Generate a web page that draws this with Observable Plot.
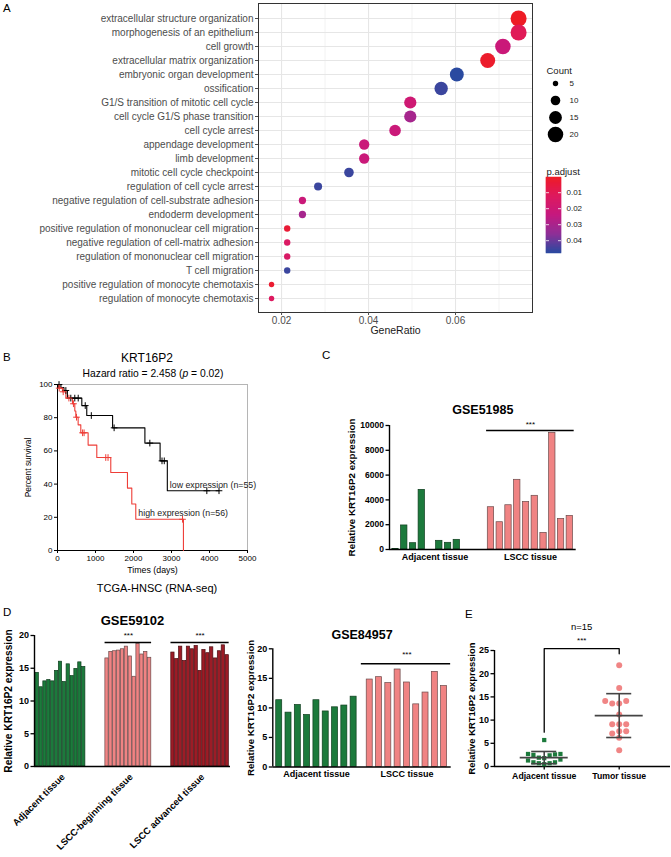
<!DOCTYPE html>
<html><head><meta charset="utf-8">
<script src="https://cdn.jsdelivr.net/npm/d3@7"></script>
<script src="https://cdn.jsdelivr.net/npm/@observablehq/plot@0.6"></script>
<style>
body{margin:0;background:#fff;}
#fig{position:relative;width:671px;height:857px;overflow:hidden;background:#fff;font-family:"Liberation Sans",Arial,Helvetica,sans-serif;color:#000;}
#fig svg{overflow:visible;}
</style></head>
<body><div id="fig"></div>
<script>
// ---------------- Panel A data ----------------
const goTerms = [
  "extracellular structure organization",
  "morphogenesis of an epithelium",
  "cell growth",
  "extracellular matrix organization",
  "embryonic organ development",
  "ossification",
  "G1/S transition of mitotic cell cycle",
  "cell cycle G1/S phase transition",
  "cell cycle arrest",
  "appendage development",
  "limb development",
  "mitotic cell cycle checkpoint",
  "regulation of cell cycle arrest",
  "negative regulation of cell-substrate adhesion",
  "endoderm development",
  "positive regulation of mononuclear cell migration",
  "negative regulation of cell-matrix adhesion",
  "regulation of mononuclear cell migration",
  "T cell migration",
  "positive regulation of monocyte chemotaxis",
  "regulation of monocyte chemotaxis"
];
const goGeneRatio = [0.0745, 0.0745, 0.0709, 0.0674, 0.0603, 0.0567, 0.0496, 0.0496, 0.0461, 0.0390, 0.0390, 0.0355, 0.0284, 0.0248, 0.0248, 0.0213, 0.0213, 0.0213, 0.0213, 0.0177, 0.0177];
const goCount = [21, 21, 20, 19, 17, 16, 14, 14, 13, 11, 11, 10, 8, 7, 7, 6, 6, 6, 6, 5, 5];
const goPAdjust = [0.0005, 0.011, 0.022, 0.002, 0.048, 0.046, 0.020, 0.031, 0.022, 0.022, 0.022, 0.046, 0.046, 0.022, 0.031, 0.004, 0.014, 0.015, 0.046, 0.003, 0.013];
const geneRatioTicks = [0.02, 0.04, 0.06];
const geneRatioMinor = [0.03, 0.05, 0.07];
const countBreaks = [5, 10, 15, 20];
const pBreaks = [0.01, 0.02, 0.03, 0.04];

// ---------------- Panel B data ----------------
const lowTimes = [0, 90, 170, 260, 640, 770, 1450, 2300, 2700, 2890];
const lowSurv = [100, 98.2, 96.4, 91.8, 87.3, 81.3, 73.9, 64.7, 54.0, 36.0];
const lowCensor = [40, 220, 350, 455, 545, 730, 890, 1490, 2430, 2750, 2810, 3930, 4250];
const highTimes = [0, 30, 130, 220, 394, 455, 482, 543, 613, 806, 1034, 1402, 1841, 1955, 2060, 3314];
const highSurv = [100, 97.8, 95.6, 91.8, 88.4, 84.0, 80.3, 75.7, 70.9, 63.5, 56.0, 47.0, 37.6, 28.0, 18.8, 0];
const highCensor = [45, 150, 300, 420, 500, 660, 700, 1270, 1330, 3290];
const survTimeTicks = [0, 1000, 2000, 3000, 4000, 5000];
const survPctTicks = [0, 20, 40, 60, 80, 100];
const survLabels = ["low expression (n=55)", "high expression (n=56)"];

// ---------------- Panel C data ----------------
const cGroups = ["Adjacent tissue", "LSCC tissue"];
const cAdjacent = [50, 1940, 510, 4810, 0, 700, 540, 780, 0, 0];
const cLSCC = [3410, 2200, 3570, 5620, 3840, 4330, 1340, 9410, 2470, 2710];
const cTicks = [0, 2000, 4000, 6000, 8000, 10000];

// ---------------- Panel D data ----------------
const d1Groups = ["Adjacent tissue", "LSCC-beginning tissue", "LSCC advanced tissue"];
const d1Adjacent = [14.3, 12.1, 13.0, 13.2, 13.0, 14.6, 16.0, 12.9, 15.6, 13.8, 14.9, 15.9, 15.2];
const d1Beginning = [16.5, 17.5, 17.6, 17.7, 17.9, 18.3, 16.8, 13.7, 18.7, 17.1, 17.5, 16.6];
const d1Advanced = [17.4, 16.4, 18.3, 16.1, 18.3, 17.9, 18.4, 14.6, 17.8, 17.3, 18.2, 16.5, 17.6, 18.5, 17.0];
const d2Groups = ["Adjacent tissue", "LSCC tissue"];
const d2Adjacent = [11.3, 9.2, 10.5, 8.8, 11.3, 9.4, 10.1, 10.4, 11.9];
const d2LSCC = [14.8, 15.2, 14.2, 16.5, 14.3, 10.6, 12.6, 16.1, 13.7];
const dTicks = [0, 5, 10, 15, 20];

// ---------------- Panel E data ----------------
const eGroups = ["Adjacent tissue", "Tumor tissue"];
const eAdjacent = [5.7, 1.9, 2.7, 2.5, 2.4, 2.6, 2.7, 1.8, 1.5, 0.9, 0.7, 0.5, 0.7, 0.9, 1.3];
const eTumor = [21.8, 16.9, 14.1, 13.6, 13.6, 14.1, 11.2, 9.1, 9.1, 9.1, 7.1, 7.6, 7.6, 6.2, 3.5];
const eTicks = [0, 5, 10, 15, 20, 25];

// ---------------- helpers ----------------
const fig = document.getElementById("fig");
const FONT = "'Liberation Sans', Arial, Helvetica, sans-serif";
const baseStyle = (extra = "") => `background:none;overflow:visible;max-width:none;font-family:${FONT};color:#000;${extra}`;
function mount(svg, left, top) {
  const d = document.createElement("div");
  d.style.cssText = `position:absolute;left:${left}px;top:${top}px;`;
  d.appendChild(svg);
  fig.appendChild(d);
}
function addText(html, x, y, css = "", center = true) {
  const d = document.createElement("div");
  d.innerHTML = html;
  d.style.cssText = `position:absolute;left:${x}px;top:${y}px;white-space:nowrap;line-height:1;${center ? "transform:translate(-50%,-50%);" : ""}${css}`;
  fig.appendChild(d);
}
const GREEN = "#1c7a3c", GREEN_S = "#0f3d1e";
const PINK = "#f08383", PINK_S = "#6b4a4a";
const DRED = "#9c1c26", DRED_S = "#4a0d12";

// ---------------- Panel A ----------------
const goRows = goTerms.map((term, i) => ({term, ratio: goGeneRatio[i], count: goCount[i], p: goPAdjust[i]}));
const pExtent = d3.extent(goPAdjust);
const colorStops = ["#ee1c25", "#de1a5e", "#c5197f", "#8f3097", "#2a4aa0"];
const colorScale = {
  type: "linear",
  domain: colorStops.map((_, i) => pExtent[0] + (pExtent[1] - pExtent[0]) * i / (colorStops.length - 1)),
  range: colorStops
};
const rScale = {type: "pow", exponent: 0.5, domain: [5, 21], range: [2.7, 8]};

mount(Plot.plot({
  width: 540, height: 345,
  marginLeft: 258, marginRight: 8, marginTop: 3, marginBottom: 33,
  style: baseStyle(),
  x: {domain: [0.0147, 0.0777], axis: null},
  y: {type: "point", domain: goTerms, padding: 0.6, axis: null},
  r: rScale,
  color: colorScale,
  marks: [
    Plot.ruleX(geneRatioMinor, {stroke: "#ebebeb", strokeWidth: 0.6}),
    Plot.ruleX(geneRatioTicks, {stroke: "#e6e6e6", strokeWidth: 1.1}),
    Plot.ruleY(goTerms, {stroke: "#e6e6e6", strokeWidth: 1.1}),
    Plot.dot(goRows, {x: "ratio", y: "term", r: "count", fill: "p"}),
    Plot.frame({stroke: "#333", strokeWidth: 1}),
    Plot.axisX({ticks: geneRatioTicks, tickFormat: d3.format(".2f"), tickSize: 3, tickPadding: 1, fontSize: 10, color: "#4d4d4d", label: null}),
    Plot.axisY({tickSize: 3, tickPadding: 2, fontSize: 10, color: "#4d4d4d", label: null}),
    Plot.text(["GeneRatio"], {frameAnchor: "bottom", dy: 21, fontSize: 10.5, fill: "#1a1a1a"})
  ]
}), 0, 0);

// Count legend
mount(Plot.plot({
  width: 80, height: 90, margin: 0,
  style: baseStyle(),
  x: {domain: [0, 80], range: [0, 80], axis: null},
  y: {domain: [5, 20], range: [28, 79], axis: null},
  r: rScale,
  marks: [
    Plot.text(["Count"], {frameAnchor: "top-left", dx: 6, dy: 12, textAnchor: "start", fontSize: 9.5, fill: "#1a1a1a"}),
    Plot.dot(countBreaks, {x: () => 15, y: d => d, r: d => d, fill: "#000"}),
    Plot.text(countBreaks, {x: () => 29, y: d => d, text: d => String(d), textAnchor: "start", fontSize: 8, fill: "#1a1a1a"})
  ]
}), 540, 55);

// p.adjust colour bar
const nStripes = 76;
const stripes = d3.range(nStripes).map(i => [pExtent[0] + (pExtent[1] - pExtent[0]) * i / nStripes, pExtent[0] + (pExtent[1] - pExtent[0]) * (i + 1) / nStripes]);
mount(Plot.plot({
  width: 80, height: 100, margin: 0,
  style: baseStyle(),
  x: {domain: [0, 80], range: [0, 80], axis: null},
  y: {domain: pExtent, range: [17, 93], axis: null},
  color: colorScale,
  marks: [
    Plot.text(["p.adjust"], {frameAnchor: "top-left", dx: 6, dy: 8, textAnchor: "start", fontSize: 9.5, fill: "#1a1a1a"}),
    Plot.rect(stripes, {x1: () => 6, x2: () => 21, y1: d => d[0], y2: d => d[1], fill: d => (d[0] + d[1]) / 2, stroke: d => (d[0] + d[1]) / 2, strokeWidth: 0.5}),
    Plot.ruleY(pBreaks, {x1: () => 6, x2: () => 9, stroke: "#fff", strokeWidth: 0.8}),
    Plot.ruleY(pBreaks, {x1: () => 18, x2: () => 21, stroke: "#fff", strokeWidth: 0.8}),
    Plot.text(pBreaks, {x: () => 26, y: d => d, text: d => d.toFixed(2), textAnchor: "start", fontSize: 8, fill: "#1a1a1a"})
  ]
}), 540, 160);

addText("A", 3, 2.5, "font-size:11.5px;", false);

// ---------------- Panel B ----------------
const survAt = (times, surv, t) => surv[d3.bisectRight(times, t) - 1];
const lowPts = lowTimes.map((t, i) => ({t, s: lowSurv[i]})).concat([{t: d3.max(lowCensor), s: lowSurv[lowSurv.length - 1]}]);
const highPts = highTimes.map((t, i) => ({t, s: highSurv[i]}));
const lowC = lowCensor.map(t => ({t, s: survAt(lowTimes, lowSurv, t)}));
const highC = highCensor.map(t => ({t, s: survAt(highTimes, highSurv, t)}));
const RED = "#ee3e38";
const survLabelPts = [
  {t: lowTimes[lowTimes.length - 1], s: lowSurv[lowSurv.length - 1], label: survLabels[0]},
  {t: highTimes[highTimes.length - 2], s: highSurv[highSurv.length - 2], label: survLabels[1]}
];
mount(Plot.plot({
  width: 300, height: 200,
  marginLeft: 57, marginRight: 53, marginTop: 6, marginBottom: 28,
  style: baseStyle(),
  x: {domain: [0, 5000], axis: null},
  y: {domain: [0, 100], axis: null},
  marks: [
    Plot.frame({stroke: "#b5b5b5"}),
    Plot.ruleX([0], {stroke: "#000", strokeWidth: 1}),
    Plot.ruleY([0], {stroke: "#000", strokeWidth: 1}),
    Plot.axisX({ticks: survTimeTicks, tickFormat: "d", tickSize: 3, tickPadding: 2, fontSize: 8, label: null}),
    Plot.axisY({ticks: survPctTicks, tickFormat: "d", tickSize: 3, tickPadding: 2, fontSize: 8, label: null}),
    Plot.line(lowPts, {x: "t", y: "s", curve: "step-after", stroke: "#000", strokeWidth: 1.1}),
    Plot.line(highPts, {x: "t", y: "s", curve: "step-after", stroke: RED, strokeWidth: 1.1}),
    Plot.dot(lowC, {x: "t", y: "s", symbol: "plus", r: 2.3, stroke: "#000", strokeWidth: 1}),
    Plot.dot(highC, {x: "t", y: "s", symbol: "plus", r: 2.3, stroke: RED, strokeWidth: 1}),
    Plot.text(survLabelPts, {x: "t", y: "s", text: "label", textAnchor: "start", dx: 2.5, dy: -6, fontSize: 8.8, fill: "#222"}),
    Plot.text(["Percent survival"], {frameAnchor: "left", textAnchor: "middle", rotate: -90, dx: -29, fontSize: 8.4}),
    Plot.text(["Times (days)"], {frameAnchor: "bottom", dy: 22, fontSize: 8.8})
  ]
}), 0, 378);
addText("B", 3, 352, "font-size:11.5px;", false);
addText("KRT16P2", 147, 357.5, "font-size:12px;");
addText("Hazard ratio = 2.458 (<i>p</i> = 0.02)", 153, 374, "font-size:10.3px;");
addText("TCGA-HNSC (RNA-seq)", 157, 588, "font-size:11px;");

// ---------------- bar chart helper (Panels C, D) ----------------
function layoutBars(groups, gap) {
  let start = 0;
  const bars = [], info = [];
  for (const g of groups) {
    g.values.forEach((v, i) => bars.push({group: g.name, pos: start + i, value: v}));
    info.push({...g, first: start, last: start + g.values.length - 1, center: start + (g.values.length - 1) / 2});
    start += g.values.length + gap;
  }
  return {bars, info};
}
function barPanel(o) {
  const {bars, info} = layoutBars(o.groups, o.gap);
  const sigInfo = info.filter(g => g.sig);
  const marks = [];
  for (const g of info) {
    marks.push(Plot.rect(bars.filter(b => b.group === g.name), {
      x1: b => b.pos - 0.5, x2: b => b.pos + 0.5, y1: 0, y2: "value",
      fill: g.fill, stroke: g.stroke, strokeWidth: 0.7, insetLeft: o.inset, insetRight: o.inset
    }));
  }
  marks.push(
    Plot.ruleY([0], {stroke: "#000", strokeWidth: 1.4}),
    Plot.ruleX([o.xDomain[0]], {y1: o.yDomain[0], y2: o.yDomain[1], stroke: "#000", strokeWidth: 1.4}),
    Plot.axisY({ticks: o.yTicks, tickFormat: "d", tickSize: 3.5, tickPadding: 2, fontSize: o.tickSize, label: null, strokeWidth: 1.3}),
    Plot.ruleY(sigInfo, {x1: d => d.first - 0.5 - (o.sigL || 0), x2: d => d.last + 0.5 + (o.sigR || 0), y: () => o.sigY, stroke: "#000", strokeWidth: 1.5}),
    Plot.text(sigInfo, {x: "center", y: () => o.sigY, text: () => "***", dy: o.starDy, fontSize: 8, fontWeight: "normal"}),
    Plot.text([o.title], {frameAnchor: "top", dy: o.titleDy, fontSize: o.titleSize}),
    Plot.text([o.yTitle], {frameAnchor: "left", textAnchor: "middle", rotate: -90, dx: o.yTitleDx, fontSize: o.yTitleSize}),
    Plot.text(info, {x: "center", text: "name", frameAnchor: "bottom", dy: o.labelDy, dx: o.labelDx || 0,
      rotate: o.labelRotate || 0, textAnchor: o.labelRotate ? "end" : "middle", fontSize: o.labelSize})
  );
  return Plot.plot({
    width: o.width, height: o.height,
    marginLeft: o.ml, marginRight: o.mr, marginTop: o.mt, marginBottom: o.mb,
    style: baseStyle("font-weight:bold;"),
    x: {domain: o.xDomain, axis: null},
    y: {domain: o.yDomain, axis: null},
    marks
  });
}
const yTitleText = "Relative KRT16P2 expression";

// ---------------- Panel C ----------------
mount(barPanel({
  groups: [
    {name: cGroups[0], values: cAdjacent, fill: GREEN, stroke: GREEN_S},
    {name: cGroups[1], values: cLSCC, fill: PINK, stroke: PINK_S, sig: true}
  ],
  gap: 0.9, inset: 1.2,
  width: 260, height: 200, ml: 59, mr: 14.3, mt: 35, mb: 41,
  xDomain: [-0.685, 20.63], yDomain: [0, 10000], yTicks: cTicks, tickSize: 8.5,
  sigY: d3.max(cLSCC) * 1.02, starDy: -6,
  title: "GSE51985", titleDy: -20, titleSize: 12.5,
  yTitle: yTitleText, yTitleDx: -38, yTitleSize: 9.8,
  labelDy: 10.3, labelSize: 9
}), 330, 390);
addText("C", 322, 350, "font-size:11.5px;", false);

// ---------------- Panel D (left) ----------------
mount(barPanel({
  groups: [
    {name: d1Groups[0], values: d1Adjacent, fill: GREEN, stroke: GREEN_S},
    {name: d1Groups[1], values: d1Beginning, fill: PINK, stroke: PINK_S, sig: true},
    {name: d1Groups[2], values: d1Advanced, fill: DRED, stroke: DRED_S, sig: true}
  ],
  gap: 5, inset: 0.3,
  width: 240, height: 257, ml: 34, mr: 10, mt: 35, mb: 91,
  xDomain: [-0.70, 49.85], yDomain: [0, 20], yTicks: dTicks, tickSize: 9,
  sigY: d3.max([...d1Beginning, ...d1Advanced]) * 1.013, starDy: -7,
  title: "GSE59102", titleDy: -20, titleSize: 13,
  yTitle: yTitleText, yTitleDx: -26, yTitleSize: 10.2,
  labelDy: 11, labelDx: 5, labelRotate: -45, labelSize: 9.4
}), 0, 600);
addText("D", 3, 606.5, "font-size:11.5px;", false);

// ---------------- Panel D (right) ----------------
mount(barPanel({
  groups: [
    {name: d2Groups[0], values: d2Adjacent, fill: GREEN, stroke: GREEN_S},
    {name: d2Groups[1], values: d2LSCC, fill: PINK, stroke: PINK_S, sig: true}
  ],
  gap: 0.73, inset: 1.65,
  width: 220, height: 200, ml: 32.3, mr: 9.3, mt: 48.3, mb: 33.5,
  xDomain: [-0.69, 18.49], yDomain: [0, 20], yTicks: dTicks, tickSize: 9,
  sigY: d3.max(d2LSCC) * 1.06, sigL: 0.4, sigR: 0.2, starDy: -9,
  title: "GSE84957", titleDy: -18.3, titleSize: 12.5,
  yTitle: yTitleText, yTitleDx: -22.3, yTitleSize: 9.7,
  labelDy: 10.2, labelSize: 9
}), 240, 600);

// ---------------- Panel E ----------------
const E = {width: 216, height: 200, ml: 39, mr: 1, mt: 50, mb: 34, xDomain: [0.337, 2.684], yDomain: [0, 25]};
const pxPerX = (E.width - E.ml - E.mr) / (E.xDomain[1] - E.xDomain[0]);
const pxPerY = (E.height - E.mt - E.mb) / (E.yDomain[1] - E.yDomain[0]);
function swarm(values, diameter, step) {
  const order = d3.range(values.length).sort((a, b) => values[a] - values[b] || a - b);
  const placed = [], off = new Array(values.length);
  for (const i of order) {
    const y = values[i] * pxPerY;
    for (let k = 0; k < 200; k++) {
      const m = Math.ceil(k / 2) * (k % 2 ? -1 : 1) * step;
      if (placed.every(p => Math.hypot(p.x - m, p.y - y) >= diameter)) { off[i] = m; placed.push({x: m, y}); break; }
    }
  }
  return off;
}
const adjOff = swarm(eAdjacent, 5.3, 2.7);
const tumOff = swarm(eTumor, 6.2, 3.5);
const adjPts = eAdjacent.map((v, i) => ({x: 1 + adjOff[i] / pxPerX, y: v}));
const tumPts = eTumor.map((v, i) => ({x: 2 + tumOff[i] / pxPerX, y: v}));
const eStats = [eAdjacent, eTumor].map((vals, i) => ({g: i + 1, mean: d3.mean(vals), sd: d3.deviation(vals)}));
const eCaps = eStats.flatMap(s => [{g: s.g, y: s.mean - s.sd}, {g: s.g, y: s.mean + s.sd}]);
const bTop = d3.max(eTumor) + 3.6;
const bracket = [
  {x: 1, y: d3.max(eAdjacent) + 1.7}, {x: 1, y: bTop}, {x: 2, y: bTop}, {x: 2, y: d3.max(eTumor) + 2.5}
];
mount(Plot.plot({
  width: E.width, height: E.height,
  marginLeft: E.ml, marginRight: E.mr, marginTop: E.mt, marginBottom: E.mb,
  style: baseStyle("font-weight:bold;"),
  x: {domain: E.xDomain, axis: null},
  y: {domain: E.yDomain, axis: null},
  marks: [
    Plot.ruleY([0], {stroke: "#000", strokeWidth: 1.4}),
    Plot.ruleX([E.xDomain[0]], {y1: 0, y2: 25, stroke: "#000", strokeWidth: 1.4}),
    Plot.axisY({ticks: eTicks, tickFormat: "d", tickSize: 3.5, tickPadding: 2, fontSize: 9, label: null, strokeWidth: 1.3}),
    Plot.axisX({ticks: [1, 2], tickFormat: d => eGroups[d - 1], tickSize: 3.5, tickPadding: 3, fontSize: 8.7, label: null, strokeWidth: 1.3}),
    Plot.dot(adjPts, {x: "x", y: "y", symbol: "square", r: 2.4, fill: GREEN}),
    Plot.dot(tumPts, {x: "x", y: "y", r: 3, fill: "#f08585"}),
    Plot.ruleY(eStats, {x1: d => d.g - 0.32, x2: d => d.g + 0.32, y: "mean", stroke: "#444", strokeWidth: 1.6}),
    Plot.ruleX(eStats, {x: "g", y1: d => d.mean - d.sd, y2: d => d.mean + d.sd, stroke: "#444", strokeWidth: 1.6}),
    Plot.ruleY(eCaps, {x1: d => d.g - 0.167, x2: d => d.g + 0.167, y: "y", stroke: "#444", strokeWidth: 1.6}),
    Plot.line(bracket, {x: "x", y: "y", stroke: "#000", strokeWidth: 1.3}),
    Plot.text([{x: 1.5, y: bTop}], {x: "x", y: "y", text: () => "***", dy: -8, fontSize: 8, fontWeight: "normal"}),
    Plot.text([{x: 1.5, y: bTop}], {x: "x", y: "y", text: () => `n=${eTumor.length}`, dy: -22, fontSize: 9.5, fontWeight: "normal"}),
    Plot.text([yTitleText], {frameAnchor: "left", textAnchor: "middle", rotate: -90, dx: -22.3, fontSize: 9.4})
  ]
}), 455, 600);
addText("E", 465, 608.5, "font-size:11.5px;", false);
</script>
</body></html>
